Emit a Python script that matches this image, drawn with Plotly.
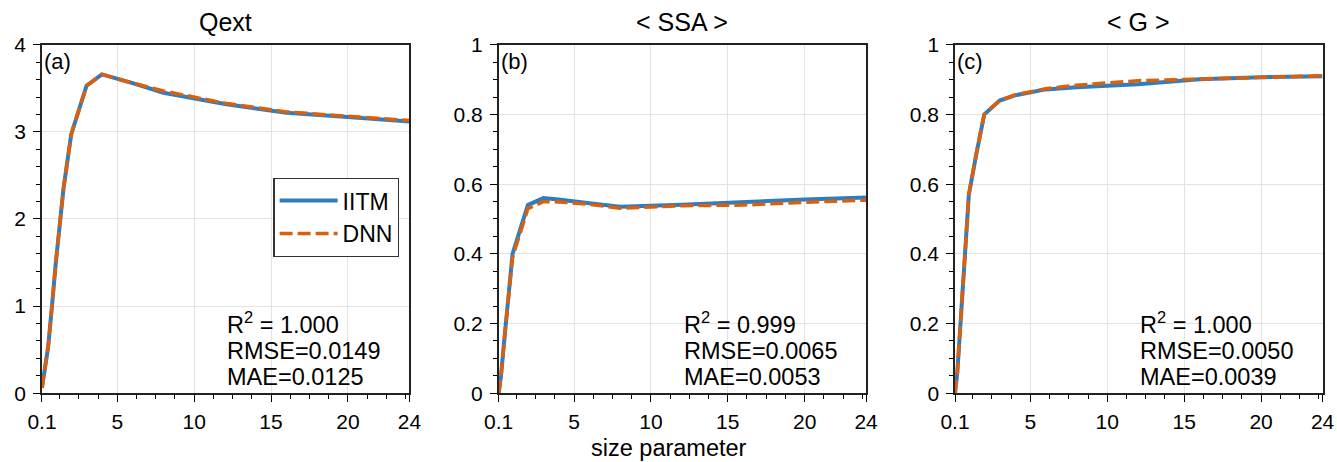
import plotly.graph_objects as go

# size parameter grid
size_param = [0.1, 0.25, 0.5, 0.75, 1, 1.5, 2, 3, 4, 6, 8, 12, 16, 20, 24]

qext_iitm = [0.06, 0.22, 0.53, 1.0, 1.5, 2.35, 2.97, 3.53, 3.66, 3.56, 3.45, 3.32, 3.22, 3.17, 3.12]
qext_dnn = [0.06, 0.22, 0.53, 1.0, 1.5, 2.35, 2.97, 3.53, 3.66, 3.56, 3.47, 3.33, 3.23, 3.18, 3.13]

ssa_iitm = [0.0, 0.05, 0.17, 0.29, 0.40, 0.47, 0.54, 0.56, 0.556, 0.545, 0.535, 0.541, 0.549, 0.556, 0.562]
ssa_dnn = [0.0, 0.05, 0.17, 0.28, 0.39, 0.46, 0.53, 0.55, 0.549, 0.542, 0.531, 0.538, 0.540, 0.548, 0.554]

g_iitm = [0.0, 0.06, 0.23, 0.40, 0.57, 0.69, 0.80, 0.84, 0.855, 0.872, 0.878, 0.887, 0.901, 0.907, 0.910]
g_dnn = [0.0, 0.06, 0.23, 0.40, 0.57, 0.69, 0.80, 0.84, 0.856, 0.874, 0.884, 0.897, 0.902, 0.908, 0.911]

titles = ["Qext", "< SSA >", "< G >"]
panel_labels = ["(a)", "(b)", "(c)"]
r2_vals = ["1.000", "0.999", "1.000"]
rmse_vals = ["0.0149", "0.0065", "0.0050"]
mae_vals = ["0.0125", "0.0053", "0.0039"]
y_ranges = [[0, 4], [0, 1], [0, 1]]
y_dticks = [1, 0.2, 0.2]
y_minor = [0.2, 0.05, 0.05]
x_ticks = [0.1, 5, 10, 15, 20, 24]
x_ticktext = ["0.1", "5", "10", "15", "20", "24"]

BLUE = "#2E7EBF"
ORANGE = "#D9600E"
FONT = "Liberation Sans, Arial, Helvetica, sans-serif"

# panel placement (fractions of the page)
x_domains = [[0.0314, 0.3062], [0.3730, 0.6478], [0.7143, 0.9892]]
y_domain = [0.149, 0.903]

series = [(qext_iitm, qext_dnn), (ssa_iitm, ssa_dnn), (g_iitm, g_dnn)]

fig = go.Figure()

for i, (iitm, dnn) in enumerate(series):
    suffix = "" if i == 0 else str(i + 1)
    fig.add_trace(go.Scatter(x=size_param, y=iitm, mode="lines", name="IITM",
                             line=dict(color=BLUE, width=4),
                             xaxis="x" + suffix, yaxis="y" + suffix, showlegend=(i == 0)))
    fig.add_trace(go.Scatter(x=size_param, y=dnn, mode="lines", name="DNN",
                             line=dict(color=ORANGE, width=3.5, dash="13px,5px"),
                             xaxis="x" + suffix, yaxis="y" + suffix, showlegend=(i == 0)))

layout = dict(
    width=1337, height=462,
    margin=dict(l=0, r=0, t=0, b=0),
    paper_bgcolor="white", plot_bgcolor="white",
    font=dict(family=FONT, size=21, color="black"),
    legend=dict(x=0.2045, y=0.615, xanchor="left", yanchor="top",
                bordercolor="#333", borderwidth=1.2, bgcolor="white",
                font=dict(size=23), tracegroupgap=0, itemwidth=58),
    annotations=[],
)

for i in range(3):
    suffix = "" if i == 0 else str(i + 1)
    layout["xaxis" + suffix] = dict(
        domain=x_domains[i], anchor="y" + suffix, range=[0.1, 24], automargin=False,
        tickvals=x_ticks, ticktext=x_ticktext,
        ticks="outside", ticklen=7, tickwidth=1.3, tickcolor="black", ticklabelstandoff=2,
        minor=dict(tickmode="linear", tick0=0, dtick=1.25, ticks="outside", ticklen=4,
                   tickcolor="black", showgrid=False),
        showline=True, linecolor="#222", linewidth=1.5, mirror=True,
        showgrid=True, gridcolor="#e3e3e3", gridwidth=1, zeroline=False,
        tickfont=dict(size=21),
    )
    layout["yaxis" + suffix] = dict(
        domain=y_domain, anchor="x" + suffix, range=y_ranges[i], automargin=False,
        tick0=0, dtick=y_dticks[i],
        ticks="outside", ticklen=7, tickwidth=1.3, tickcolor="black", ticklabelstandoff=3,
        minor=dict(tick0=0, dtick=y_minor[i], ticks="outside", ticklen=4,
                   tickcolor="black", showgrid=False),
        showline=True, linecolor="#222", linewidth=1.5, mirror=True,
        showgrid=True, gridcolor="#e3e3e3", gridwidth=1, zeroline=False,
        tickfont=dict(size=21),
    )
    xd = "x" + suffix + " domain"
    yd = "y" + suffix + " domain"
    layout["annotations"].append(dict(text=titles[i], x=0.5, y=1.066, xref=xd, yref=yd,
                                      xanchor="center", yanchor="middle", showarrow=False,
                                      font=dict(size=25)))
    layout["annotations"].append(dict(text=panel_labels[i], x=0.0, y=0.951, xref=xd, yref=yd,
                                      xanchor="left", yanchor="middle", showarrow=False,
                                      font=dict(size=22)))
    # fit statistics, one line each so the spacing can be kept tight
    stat_lines = ["R<sup>2</sup> = " + r2_vals[i], "RMSE=" + rmse_vals[i], "MAE=" + mae_vals[i]]
    for line_text, yy in zip(stat_lines, [0.201, 0.1216, 0.047]):
        layout["annotations"].append(dict(
            text=line_text, x=12, y=yy, xref="x" + suffix, yref=yd,
            xanchor="left", yanchor="middle", align="left", showarrow=False,
            font=dict(size=23.5)))

layout["annotations"].append(dict(text="size parameter", x=0.5, y=0.03, xref="paper", yref="paper",
                                  xanchor="center", yanchor="middle", showarrow=False,
                                  font=dict(size=23.5)))

fig.update_layout(**layout)
# drop the default page margin so the figure fills the window exactly
fig.write_html("out.html", config={"displayModeBar": False},
               post_script="document.body.style.margin='0';")
